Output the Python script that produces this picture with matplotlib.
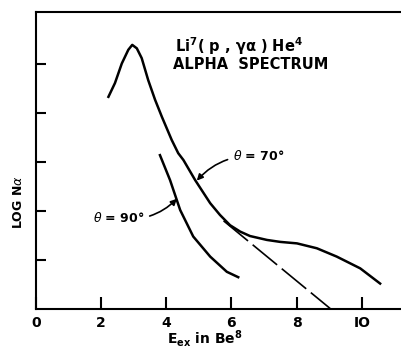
import matplotlib
matplotlib.use("Agg")
import matplotlib.pyplot as plt

# theta = 70 deg curve (E_ex, log N)
e70 = [2.23, 2.43, 2.64, 2.84, 2.96, 3.10, 3.25, 3.45, 3.66, 3.87, 4.17, 4.37, 4.53, 4.89, 5.35,
       5.65, 5.96, 6.27, 6.57, 7.09, 7.50, 8.01, 8.62, 9.23, 9.95, 10.56]
n70 = [4.33, 4.61, 5.01, 5.29, 5.39, 5.32, 5.12, 4.67, 4.27, 3.92, 3.45, 3.18, 3.04, 2.63, 2.16,
       1.92, 1.71, 1.58, 1.49, 1.41, 1.37, 1.34, 1.24, 1.07, 0.83, 0.52]
# dashed extrapolation
e_dash = [5.76, 9.03]
n_dash = [1.80, 0.01]
# theta = 90 deg curve
e90 = [3.81, 4.12, 4.43, 4.83, 5.35, 5.86, 6.21]
n90 = [3.14, 2.63, 2.02, 1.48, 1.07, 0.76, 0.65]

xticks = [0, 2, 4, 6, 8, 10]
xticklabels = ["0", "2", "4", "6", "8", "IO"]
yticks = [1, 2, 3, 4, 5]

fig = plt.figure(figsize=(4.01, 3.5), dpi=100)
ax = fig.add_axes([0.089, 0.117, 0.911, 0.85])
ax.plot(e70, n70, color="black", lw=1.8, solid_joinstyle="round")
ax.plot(e_dash, n_dash, color="black", lw=1.2, dashes=(19, 3.6))
ax.plot(e90, n90, color="black", lw=1.8, solid_joinstyle="round")
ax.set_xlim(0, 11.2)
ax.set_ylim(0, 6.07)
ax.spines["right"].set_visible(False)
for s in ["left", "bottom", "top"]:
    ax.spines[s].set_linewidth(1.5)
ax.set_xticks(xticks)
ax.set_xticklabels(xticklabels, fontsize=10, fontweight="bold")
ax.set_yticks(yticks)
ax.set_yticklabels([])
ax.tick_params(axis="x", direction="in", length=9, width=1.5, pad=5)
ax.tick_params(axis="y", direction="in", length=7, width=1.5)

ax.text(4.27, 5.36, r"Li$^{\mathbf{7}}$( p , γα ) He$^{\mathbf{4}}$", fontsize=10.5, fontweight="bold", va="center")
ax.text(4.2, 4.98, "ALPHA  SPECTRUM", fontsize=10.5, fontweight="bold", va="center")

ax.annotate(r"$\theta$ = 70°", xy=(4.94, 2.62), xytext=(6.05, 3.12), fontsize=9, fontweight="bold",
            va="center", ha="left",
            arrowprops=dict(arrowstyle="-|>", color="black", lw=1.2, connectionstyle="arc3,rad=0.25",
                            shrinkA=2, shrinkB=0))
ax.annotate(r"$\theta$ = 90°", xy=(4.33, 2.25), xytext=(1.75, 1.85), fontsize=9, fontweight="bold",
            va="center", ha="left",
            arrowprops=dict(arrowstyle="-|>", color="black", lw=1.2, connectionstyle="arc3,rad=0.25",
                            shrinkA=2, shrinkB=0))

fig.text(18 / 401, 1 - 202 / 350, r"LOG N$\alpha$", rotation=90, fontsize=9, fontweight="bold",
         ha="center", va="center")
fig.text(205 / 401, 1 - 339 / 350, r"E$_{\mathbf{ex}}$ in Be$^{\mathbf{8}}$", fontsize=10, fontweight="bold",
         ha="center", va="center")

fig.savefig("out.png", dpi=100)
